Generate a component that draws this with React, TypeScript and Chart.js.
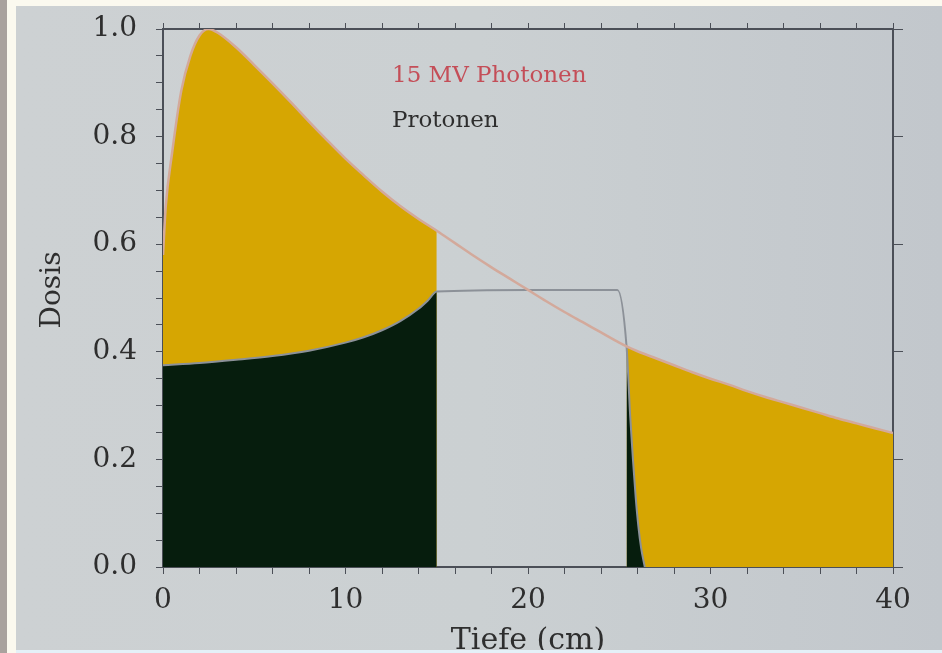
import React, { useEffect, useRef } from 'react';
import { Chart, registerables } from 'chart.js';

Chart.register(...registerables);

// ---- data ----
const photonDepth = [0, 0.15, 0.5, 1, 1.5, 2, 2.5, 3, 4, 5, 6, 7, 8, 9, 10, 11, 12, 13, 14, 15, 16, 17, 18, 19, 20, 21, 22, 23, 24, 25, 25.4, 26, 27, 28, 29, 30, 31, 32, 33, 34, 35, 36, 37, 38, 39, 40];
const photonDose = [0.58, 0.67, 0.77, 0.885, 0.95, 0.988, 1.0, 0.993, 0.966, 0.933, 0.899, 0.864, 0.828, 0.793, 0.759, 0.728, 0.698, 0.671, 0.647, 0.625, 0.602, 0.579, 0.557, 0.536, 0.515, 0.494, 0.474, 0.455, 0.436, 0.417, 0.41, 0.401, 0.388, 0.375, 0.362, 0.35, 0.339, 0.327, 0.316, 0.306, 0.296, 0.286, 0.276, 0.267, 0.258, 0.249];

const protonDepth = [0, 2, 4, 6, 8, 10, 11, 12, 13, 14, 14.5, 15, 20, 24.9, 25.4, 25.6, 25.75, 25.9, 26.05, 26.2, 26.4];
const protonDose = [0.375, 0.379, 0.385, 0.392, 0.402, 0.417, 0.427, 0.44, 0.457, 0.48, 0.495, 0.512, 0.515, 0.515, 0.41, 0.28, 0.2, 0.13, 0.075, 0.035, 0.0];

// depth range (cm) left unshaded between the two shaded zones
const gapStart = 15;
const gapEnd = 25.4;

const xLabelValues = [0, 10, 20, 30, 40];
const yLabelValues = [0, 0.2, 0.4, 0.6, 0.8, 1.0];

const photonLabel = '15 MV Photonen';
const protonLabel = 'Protonen';
const xTitle = 'Tiefe (cm)';
const yTitle = 'Dosis';

// ---- styling ----
const YELLOW = '#d6a602';
const DARK = '#061d0d';
const PHOTON_LINE = '#d3a99b';
const PROTON_LINE = '#8c9198';
const AXIS = '#4b4f57';
const TEXT = '#2e2e2e';
const FONT = '"DejaVu Serif", serif';

const pts = (xs: number[], ys: number[], lo: number, hi: number) =>
  xs.map((x, i) => ({ x, y: ys[i] })).filter((p) => p.x >= lo && p.x <= hi);

const isLabel = (v: number, list: number[]) => list.some((l) => Math.abs(l - v) < 1e-6);

const fixSize = (prop: 'width' | 'height', size: number) => (s: any) => {
  s[prop] = size;
  s.paddingTop = 0;
  s.paddingBottom = 0;
  s.paddingLeft = 0;
  s.paddingRight = 0;
};

const annotate = {
  id: 'annotate',
  afterDraw(chart: any) {
    const { ctx, chartArea, scales } = chart;
    ctx.save();
    ctx.textAlign = 'left';
    ctx.textBaseline = 'alphabetic';
    ctx.font = `23px ${FONT}`;
    ctx.fillStyle = '#c44e58';
    ctx.fillText(photonLabel, scales.x.getPixelForValue(12.55), scales.y.getPixelForValue(0.901));
    ctx.fillStyle = TEXT;
    ctx.fillText(protonLabel, scales.x.getPixelForValue(12.55), scales.y.getPixelForValue(0.818));

    // y title
    ctx.save();
    ctx.font = `28px ${FONT}`;
    ctx.fillStyle = TEXT;
    ctx.translate(chartArea.left - 110, chartArea.top + 261);
    ctx.rotate(-Math.PI / 2);
    ctx.textAlign = 'center';
    ctx.textBaseline = 'middle';
    ctx.fillText(yTitle, 0, 0);
    ctx.restore();

    // x title
    ctx.font = `30px ${FONT}`;
    ctx.fillStyle = TEXT;
    ctx.textAlign = 'center';
    ctx.textBaseline = 'alphabetic';
    ctx.fillText(xTitle, scales.x.getPixelForValue(20), chartArea.bottom + 82);
    ctx.restore();
  },
};

export default function App() {
  const ref = useRef<HTMLCanvasElement | null>(null);

  useEffect(() => {
    if (!ref.current) return;
    const tickFont = { family: FONT, size: 28 };
    const chart = new Chart(ref.current, {
      type: 'line',
      data: {
        datasets: [
          {
            label: 'photon-line',
            data: pts(photonDepth, photonDose, 0, 40),
            borderColor: PHOTON_LINE,
            borderWidth: 2.5,
            pointRadius: 0,
            fill: false,
            cubicInterpolationMode: 'monotone',
            order: 0,
          },
          {
            label: 'proton-line',
            data: pts(protonDepth, protonDose, 0, 40),
            borderColor: PROTON_LINE,
            borderWidth: 2,
            pointRadius: 0,
            fill: false,
            cubicInterpolationMode: 'monotone',
            order: 1,
          },
          {
            label: 'proton-left',
            data: pts(protonDepth, protonDose, 0, gapStart),
            borderColor: DARK,
            borderWidth: 0,
            backgroundColor: DARK,
            pointRadius: 0,
            fill: 'origin',
            cubicInterpolationMode: 'monotone',
            order: 2,
          },
          {
            label: 'proton-right',
            data: pts(protonDepth, protonDose, gapEnd, 40),
            borderColor: DARK,
            borderWidth: 0,
            backgroundColor: DARK,
            pointRadius: 0,
            fill: 'origin',
            cubicInterpolationMode: 'monotone',
            order: 2,
          },
          {
            label: 'photon-left',
            data: pts(photonDepth, photonDose, 0, gapStart),
            borderColor: YELLOW,
            borderWidth: 0,
            backgroundColor: YELLOW,
            pointRadius: 0,
            fill: 'origin',
            cubicInterpolationMode: 'monotone',
            order: 3,
          },
          {
            label: 'photon-right',
            data: pts(photonDepth, photonDose, gapEnd, 40),
            borderColor: YELLOW,
            borderWidth: 0,
            backgroundColor: YELLOW,
            pointRadius: 0,
            fill: 'origin',
            cubicInterpolationMode: 'monotone',
            order: 3,
          },
        ],
      },
      options: {
        responsive: false,
        animation: false,
        events: [],
        layout: { padding: 0 },
        plugins: { legend: { display: false }, tooltip: { enabled: false }, title: { display: false } },
        scales: {
          x: {
            type: 'linear',
            position: 'bottom',
            min: 0,
            max: 40,
            afterFit: fixSize('height', 83),
            border: { display: true, color: AXIS, width: 2 },
            grid: { drawOnChartArea: false, drawTicks: true, tickLength: 7, color: AXIS },
            ticks: {
              stepSize: 2,
              autoSkip: false,
              maxRotation: 0,
              padding: 10,
              color: TEXT,
              font: tickFont,
              callback: (v: any) => (isLabel(Number(v), xLabelValues) ? String(v) : ''),
            },
          },
          x2: {
            type: 'linear',
            axis: 'x',
            position: 'top',
            min: 0,
            max: 40,
            afterFit: fixSize('height', 29),
            border: { display: true, color: AXIS, width: 2 },
            grid: { drawOnChartArea: false, drawTicks: true, tickLength: 6, color: AXIS },
            ticks: { stepSize: 2, autoSkip: false, maxRotation: 0, callback: () => '' },
          },
          y: {
            type: 'linear',
            position: 'left',
            min: 0,
            max: 1,
            afterFit: fixSize('width', 163),
            border: { display: true, color: AXIS, width: 2 },
            grid: { drawOnChartArea: false, drawTicks: true, tickLength: 7, color: AXIS },
            ticks: {
              stepSize: 0.05,
              autoSkip: false,
              padding: 19,
              color: TEXT,
              font: tickFont,
              callback: (v: any) => (isLabel(Number(v), yLabelValues) ? Number(v).toFixed(1) : ''),
            },
          },
          y2: {
            type: 'linear',
            axis: 'y',
            position: 'right',
            min: 0,
            max: 1,
            afterFit: fixSize('width', 49),
            border: { display: true, color: AXIS, width: 2 },
            grid: { drawOnChartArea: false, drawTicks: true, tickLength: 10, color: AXIS },
            ticks: { stepSize: 0.2, autoSkip: false, callback: () => '' },
          },
        },
      },
      plugins: [annotate],
    } as any);
    return () => chart.destroy();
  }, []);

  return (
    <div style={{ position: 'absolute', left: 0, top: 0, width: 942, height: 653, overflow: 'hidden', background: '#fbf9ef' }}>
      <div style={{ position: 'absolute', left: 0, top: 0, width: 7, height: 653, background: '#a9a29e' }} />
      <div style={{ position: 'absolute', left: 16, top: 6, right: 0, height: 644, background: 'linear-gradient(90deg, #cdd1d3 0%, #cbd0d2 50%, #c2c7cc 100%)' }} />
      <div style={{ position: 'absolute', left: 16, top: 650, right: 0, height: 3, background: '#e4f1f8' }} />
      <canvas ref={ref} width={942} height={650} style={{ position: 'absolute', left: 0, top: 0 }} />
    </div>
  );
}
